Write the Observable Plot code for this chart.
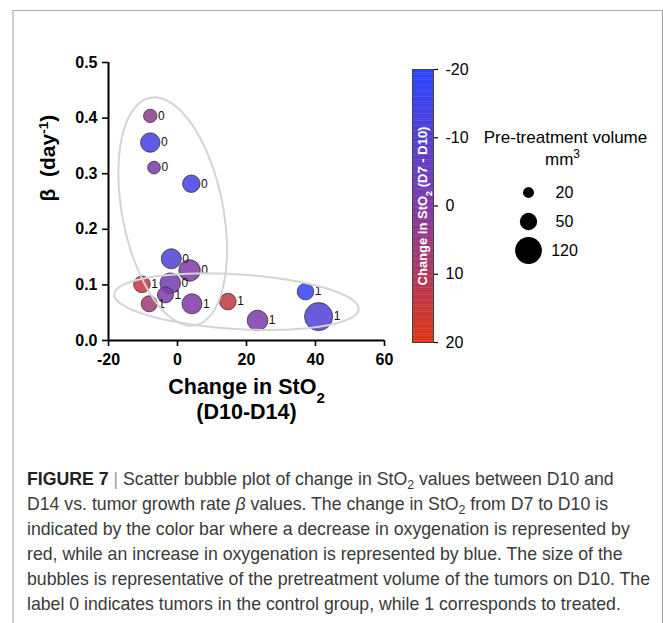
<!DOCTYPE html>
<html>
<head>
<meta charset="utf-8">
<script src="https://cdn.jsdelivr.net/npm/d3@7"></script>
<script src="https://cdn.jsdelivr.net/npm/@observablehq/plot@0.6"></script>
<style>
  html, body { margin: 0; padding: 0; background: #fff; }
  #page { position: relative; width: 663px; height: 623px; overflow: hidden; background: #fff; }
  #frame { position: absolute; left: 12px; top: 10px; width: 648px; height: 640px;
           border-top: 1px solid #aaa; border-left: 2px solid #d2d2d2; border-right: 1px solid #999; }
  .pl { position: absolute; }
  #caption { position: absolute; left: 27px; top: 467px; font-family: "Liberation Sans", Arial, sans-serif;
             font-size: 17.7px; line-height: 25px; color: #3a3a3a; white-space: nowrap; }
  #caption b { color: #222; }
  #caption .bar { color: #999; }
  #caption sub { font-size: 70%; line-height: 0; vertical-align: -0.3em; }
</style>
</head>
<body>
<div id="page">
  <div id="frame"></div>
  <div id="main" class="pl" style="left:0;top:0"></div>
  <div id="cbar" class="pl" style="left:380px;top:40px"></div>
  <div id="sizeleg" class="pl" style="left:460px;top:120px"></div>
  <div id="caption">
    <b>FIGURE 7</b> <span class="bar">|</span> Scatter bubble plot of change in StO<sub>2</sub> values between D10 and<br>
    D14 vs. tumor growth rate <i>β</i> values. The change in StO<sub>2</sub> from D7 to D10 is<br>
    indicated by the color bar where a decrease in oxygenation is represented by<br>
    red, while an increase in oxygenation is represented by blue. The size of the<br>
    bubbles is representative of the pretreatment volume of the tumors on D10. The<br>
    label 0 indicates tumors in the control group, while 1 corresponds to treated.
  </div>
</div>
<script>
// ---------- data ----------
const changeStO2_D10_D14 = [-7.9, -7.9, -6.8, 4.0, -1.8, 3.5, -10.3, -2.1, -3.5, -8.2, 4.2, 14.6, 23.2, 37.1, 40.9];
const betaValues        = [0.404, 0.356, 0.311, 0.282, 0.147, 0.126, 0.101, 0.103, 0.082, 0.066, 0.066, 0.070, 0.036, 0.088, 0.043];
const changeStO2_D7_D10 = [3, -14, -1, -13, -11, 0, 14, -3, 0, 7, 0, 14, -1, -17, -11];
const pretreatVolume    = [30, 63, 27, 51, 67, 77, 46, 71, 43, 43, 67, 46, 71, 46, 132];
const groupLabel        = [0, 0, 0, 0, 0, 0, 1, 0, 1, 1, 1, 1, 1, 1, 1];

const xTicks = [-20, 0, 20, 40, 60];
const yTicks = [0, 0.1, 0.2, 0.3, 0.4, 0.5];
const colorTicks = [-20, -10, 0, 10, 20];
const sizeLegendValues = [20, 50, 120];

// group ellipses (annotation) in data units: center, two semi-axis vectors
const ellipseCenterX = [-1.4, 17.1];
const ellipseCenterY = [0.232, 0.0698];
const ellipseAxisU = [[-6.53, 0.2046], [35.4, -0.0135]];
const ellipseAxisV = [[14.32, 0.0176], [-0.48, -0.0491]];

const points = changeStO2_D10_D14.map((x, i) => ({
  x, beta: betaValues[i], c: changeStO2_D7_D10[i], vol: pretreatVolume[i], g: String(groupLabel[i])
}));

const ellipsePts = [];
ellipseCenterX.forEach((cx, k) => {
  const cy = ellipseCenterY[k], U = ellipseAxisU[k], V = ellipseAxisV[k];
  d3.range(0, 361, 3).forEach(deg => {
    const t = deg * Math.PI / 180;
    ellipsePts.push({k, x: cx + Math.cos(t) * U[0] + Math.sin(t) * V[0], y: cy + Math.cos(t) * U[1] + Math.sin(t) * V[1]});
  });
});

const colorSpec = {type: "linear", domain: [-20, 0, 20], range: ["#2743ff", "#7e3aa6", "#df3413"]};
const rSpec = {type: "sqrt", domain: [0, 120], range: [0, 13.4]};
const rScale = Plot.scale({r: rSpec});
const plainNum = d => String(d);

const FONT = "Liberation Sans, Arial, Helvetica, sans-serif";

function richText(root) {
  const ns = "http://www.w3.org/2000/svg";
  root.querySelectorAll("text").forEach(el => {
    const targets = el.querySelectorAll("tspan").length ? Array.from(el.querySelectorAll("tspan")) : [el];
    targets.forEach(node => {
      const s = node.textContent;
      if (!/(₂|⁻¹|³)/.test(s)) return;
      node.textContent = "";
      s.split(/(₂|⁻¹|³)/).forEach(p => {
        if (!p) return;
        const t = document.createElementNS(ns, "tspan");
        if (p === "₂") { t.textContent = "2"; t.setAttribute("baseline-shift", "sub"); t.setAttribute("font-size", "70%"); }
        else if (p === "⁻¹") { t.textContent = "-1"; t.setAttribute("baseline-shift", "super"); t.setAttribute("font-size", "65%"); }
        else if (p === "³") { t.textContent = "3"; t.setAttribute("baseline-shift", "super"); t.setAttribute("font-size", "70%"); }
        else t.textContent = p;
        node.appendChild(t);
      });
    });
  });
}

// ---------- main scatter ----------
const main = Plot.plot({
  width: 400, height: 440,
  marginLeft: 108, marginRight: 16, marginTop: 62, marginBottom: 100,
  style: {background: "transparent", fontFamily: FONT, fontSize: "16px", color: "#000", overflow: "visible"},
  x: {domain: [xTicks[0], xTicks[xTicks.length - 1]]},
  y: {domain: [yTicks[0], yTicks[yTicks.length - 1]]},
  color: colorSpec,
  r: rSpec,
  marks: [
    Plot.dot(points, {x: "x", y: "beta", r: "vol", fill: "c", fillOpacity: 0.85, stroke: "#333", strokeWidth: 0.8}),
    ...points.map(d => Plot.text([d], {x: "x", y: "beta", text: "g", textAnchor: "start",
      dx: rScale.apply(d.vol) + 1, fontSize: 12, fontWeight: "normal", fill: "#111"})),
    Plot.line(ellipsePts, {x: "x", y: "y", z: "k", stroke: "#d4d4d4", strokeWidth: 2, curve: "linear"}),
    Plot.ruleX([xTicks[0]], {y1: yTicks[0], y2: yTicks[yTicks.length - 1], stroke: "#000", strokeWidth: 2}),
    Plot.ruleY([yTicks[0]], {x1: xTicks[0], x2: xTicks[xTicks.length - 1], stroke: "#000", strokeWidth: 2}),
    Plot.axisX({ticks: xTicks, tickSize: 6, tickPadding: 7, strokeWidth: 1.6, label: null, tickFormat: plainNum, fontWeight: "bold", fontSize: 16}),
    Plot.axisY({ticks: yTicks, tickSize: 6, tickPadding: 5, strokeWidth: 1.6, label: null, tickFormat: d3.format(".1f"), fontWeight: "bold", fontSize: 16}),
    Plot.text(["Change in StO₂"], {frameAnchor: "bottom", dy: 47, lineAnchor: "middle", fontWeight: "bold", fontSize: 21.5}),
    Plot.text(["(D10-D14)"], {frameAnchor: "bottom", dy: 72, lineAnchor: "middle", fontWeight: "bold", fontSize: 21.5}),
    Plot.text(["β\u00a0\u00a0(day⁻¹)"], {frameAnchor: "left", dx: -60, rotate: -90, lineAnchor: "middle", fontWeight: "bold", fontSize: 21})
  ]
});
richText(main);
document.getElementById("main").appendChild(main);

// ---------- color bar ----------
const stops = d3.range(-20, 20, 0.25);
const cbar = Plot.plot({
  width: 120, height: 330,
  marginLeft: 32, marginRight: 67, marginTop: 29, marginBottom: 28,
  style: {background: "transparent", fontFamily: FONT, fontSize: "16px", color: "#000", overflow: "visible"},
  x: {domain: [0, 1], axis: null},
  y: {domain: [colorTicks[0], colorTicks[colorTicks.length - 1]], reverse: true},
  color: colorSpec,
  marks: [
    Plot.rect(stops, {x1: 0, x2: 1, y1: d => d, y2: d => d + 0.3, fill: d => d + 0.125}),
    Plot.frame({stroke: "#444", strokeWidth: 1}),
    Plot.axisY({anchor: "right", ticks: colorTicks, tickSize: 4, tickPadding: 8, label: null, tickFormat: plainNum, fontSize: 16, strokeWidth: 1.2}),
    Plot.text(["Change in StO₂ (D7 - D10)"], {frameAnchor: "middle", rotate: -90, fill: "white", fontWeight: "bold", fontSize: 13})
  ]
});
richText(cbar);
document.getElementById("cbar").appendChild(cbar);

// ---------- size legend ----------
const sizeLeg = Plot.plot({
  width: 200, height: 150,
  marginLeft: 0, marginRight: 64, marginTop: 0, marginBottom: 0,
  style: {background: "transparent", fontFamily: FONT, fontSize: "16px", color: "#000", overflow: "visible"},
  x: {domain: [0, 1], axis: null},
  y: {type: "point", domain: sizeLegendValues, range: [71, 130], padding: 0, axis: null},
  r: rSpec,
  marks: [
    Plot.dot(sizeLegendValues, {y: d => d, r: d => d, fill: "#000"}),
    Plot.text(sizeLegendValues, {y: d => d, text: d => String(d), dx: 36, fontSize: 16}),
    Plot.text(["Pre-treatment volume"], {frameAnchor: "top", dx: 37, dy: 17, lineAnchor: "middle", fontSize: 17}),
    Plot.text(["mm³"], {frameAnchor: "top", dx: 34, dy: 39, lineAnchor: "middle", fontSize: 17})
  ]
});
richText(sizeLeg);
document.getElementById("sizeleg").appendChild(sizeLeg);
</script>
</body>
</html>
